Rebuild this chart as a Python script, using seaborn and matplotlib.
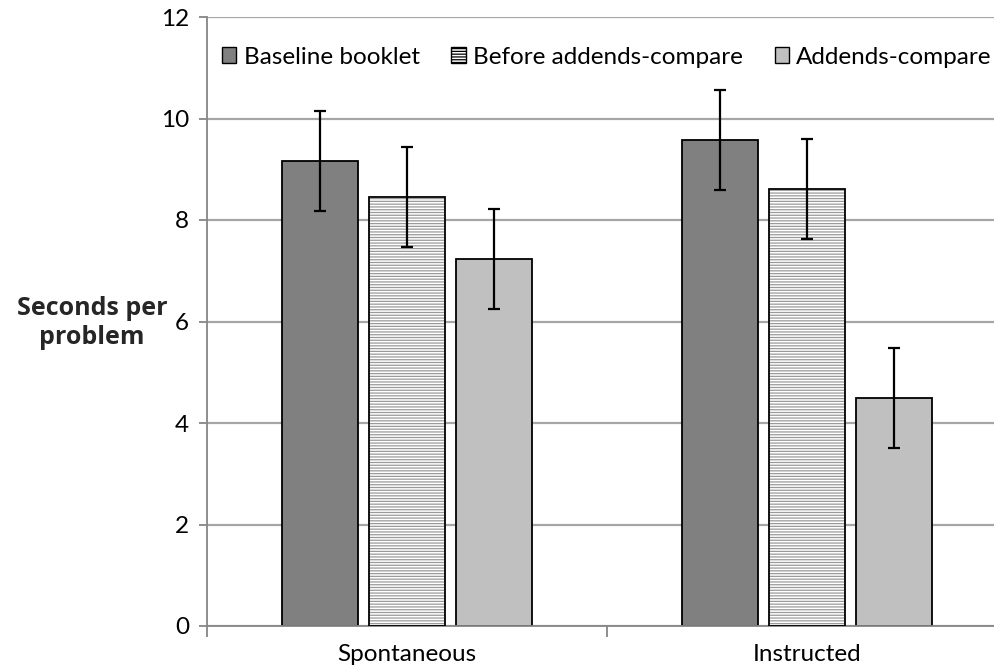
import pandas as pd
import seaborn as sns
import matplotlib.pyplot as plt
from matplotlib.patches import Patch, Rectangle

# === data ===
conditions = ["Spontaneous", "Instructed"]
phases = ["Baseline booklet", "Before addends-compare", "Addends-compare"]
means = {
    "Baseline booklet": [9.16, 9.58],
    "Before addends-compare": [8.45, 8.61],
    "Addends-compare": [7.23, 4.49],
}
errors = {
    "Baseline booklet": [0.99, 0.98],
    "Before addends-compare": [0.99, 0.99],
    "Addends-compare": [0.99, 0.99],
}
yticks = [0, 2, 4, 6, 8, 10, 12]

rows = []
for p in phases:
    for c, m, e in zip(conditions, means[p], errors[p]):
        rows.append({"Condition": c, "Phase": p, "Seconds": m, "Err": e})
df = pd.DataFrame(rows)

# === style ===
sns.set_theme(style="white")
plt.rcParams["font.family"] = ["Lato", "DejaVu Sans"]
plt.rcParams["hatch.linewidth"] = 0.9
plt.rcParams["text.color"] = "black"
plt.rcParams["xtick.color"] = "black"
plt.rcParams["ytick.color"] = "black"

colors = {"Baseline booklet": "#808080", "Before addends-compare": "#ffffff",
          "Addends-compare": "#c0c0c0"}
grid_c = "#a6a6a6"
FS = 17.5

fig = plt.figure(figsize=(9.94, 6.70), dpi=100)
ax = fig.add_axes([207 / 994, 44 / 670, 787 / 994, 609 / 670])

sns.barplot(data=df, x="Condition", y="Seconds", hue="Phase", order=conditions,
            hue_order=phases, palette=colors, width=0.6525, gap=0.115,
            errorbar=None, edgecolor="black", linewidth=1.3, ax=ax, legend=False)

# hatch for the middle series + error bars
for p, cont in zip(phases, ax.containers):
    for bar, err in zip(cont, df[df["Phase"] == p]["Err"]):
        x = bar.get_x() + bar.get_width() / 2
        h = bar.get_height()
        if p == "Before addends-compare":
            bar.set_hatch("------")
            bar.set_edgecolor("#9a9a9a")
            bar.set_linewidth(0)
            ax.add_patch(Rectangle((bar.get_x(), 0), bar.get_width(), h,
                                   fill=False, edgecolor="black", linewidth=1.3, zorder=3))
        ax.errorbar(x, h, yerr=err, color="black", capsize=4.5, elinewidth=1.6,
                    capthick=1.6, zorder=4)

ax.set_yticks(yticks)
ax.set_xticks([-0.5, 0.5, 1.5], minor=True)
ax.set_ylim(0, 12)
ax.set_xlim(-0.5, 1.4675)
ax.yaxis.grid(True, color=grid_c, linewidth=1.6)
ax.set_axisbelow(True)
for s in ["top", "right"]:
    ax.spines[s].set_visible(False)
for s in ["left", "bottom"]:
    ax.spines[s].set_color("#868686")
    ax.spines[s].set_linewidth(1.3)

ax.tick_params(axis="x", which="minor", bottom=True, length=8, width=1.3,
               color="#868686", direction="out")
ax.tick_params(axis="x", which="major", length=0, pad=13, labelsize=FS)
ax.tick_params(axis="y", length=6, width=1.3, color="#868686", direction="out",
               left=True, labelsize=FS, pad=7)
ax.set_xlabel("")
ax.set_ylabel("Seconds per\nproblem", rotation=0, fontsize=18, fontweight="bold",
              family=["Open Sans", "DejaVu Sans"], ha="center", va="center",
              multialignment="center", labelpad=0, linespacing=1.2)
ax.yaxis.set_label_coords(-0.146, 0.4975)

handles = [Patch(facecolor=colors[p], edgecolor="black", linewidth=1.0,
                 hatch="------" if p == "Before addends-compare" else None) for p in phases]
ax.legend(handles, phases, ncol=3, frameon=False, loc="center",
          bbox_to_anchor=(0.508, 0.934), fontsize=FS, handlelength=0.6,
          handleheight=0.6, handletextpad=0.3, columnspacing=1.3)

plt.savefig("out.png", dpi=100)
